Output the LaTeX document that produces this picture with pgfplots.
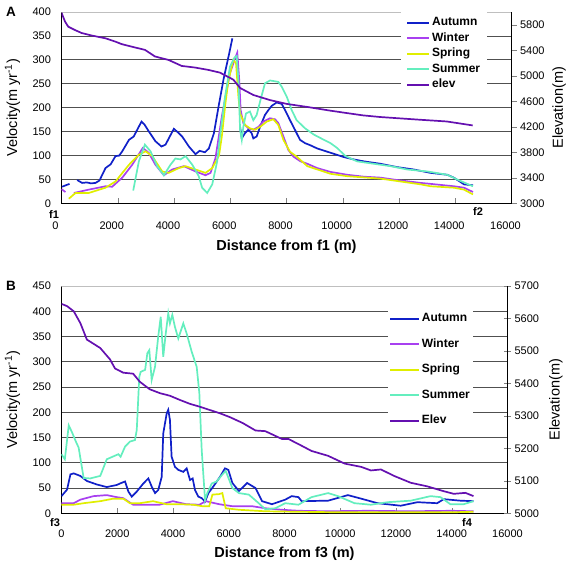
\documentclass[border=0pt]{standalone}
\usepackage{fontspec}
\setmainfont{Liberation Sans}
\usepackage{pgfplots}
\pgfplotsset{compat=1.18}

\definecolor{cAut}{RGB}{16,32,200}
\definecolor{cWin}{RGB}{168,64,240}
\definecolor{cSpr}{RGB}{224,238,0}
\definecolor{cSum}{RGB}{100,238,190}
\definecolor{cElev}{RGB}{100,16,176}
\definecolor{cGrid}{RGB}{80,80,80}

\pgfplotsset{
  base/.style={scale only axis, xmin=0, xmax=16000,
    /pgf/number format/assume math mode=true,
    /pgf/number format/1000 sep={},
    scaled x ticks=false, scaled y ticks=false,
    tick label style={font=\fontsize{11}{13}\selectfont},
    label style={font=\fontsize{14.5}{16}\selectfont},
    unbounded coords=jump,
    axis line style={line width=0.8pt},
  },
  vel/.style={base, axis x line*=bottom, axis y line*=left,
    xtick={0,2000,...,16000}, xtick align=inside, major tick length=5pt,
    ytick style={draw=none}, extra y tick style={grid=none, tick style={draw=none}},
    ymajorgrids, major grid style={cGrid, line width=0.8pt},
    yticklabel style={xshift=-7pt},
    xlabel style={at={(axis description cs:0.5,0)}, anchor=center, font=\bfseries\fontsize{14.5}{16}\selectfont},
    ylabel style={anchor=center, rotate=0},
  },
  elev/.style={base, axis x line=none, axis y line*=right,
    ylabel style={anchor=center},
    legend cell align=left,
    legend image code/.code={\draw[line width=1.7pt] (0pt,0pt) -- (22pt,0pt);},
  },
}

\begin{document}
\begin{tikzpicture}
\useasboundingbox (0,0) rectangle (568pt,563pt);

% ================= Panel A =================
\begin{axis}[vel, at={(61.5pt,359.5pt)}, anchor=south west,
  width=450pt, height=191.5pt, ymin=0, ymax=400,
  ytick={0,50,...,350}, extra y ticks={400},
  xticklabel style={xshift=-6pt, yshift=-15pt},
  xlabel={Distance from f1 (m)}, xlabel style={yshift=-43.5pt},
  ylabel={Velocity(m yr\textsuperscript{-1})},
  ylabel style={at={(axis description cs:-0.109,0.5)}}]
\draw[black!25, line width=0.6pt] (rel axis cs:0,1) -- (rel axis cs:1,1);
% Autumn
\addplot[cAut, line width=1.7pt] coordinates {
(20,35)(150,38)(285,41)(420,nan)
(557,49)(735,43)(900,44)(1050,42)(1210,43)(1350,48)(1565,74)(1750,82)(1920,99)(2050,100)
(2160,109)(2400,133)(2570,140)(2700,155)(2845,171)(2950,165)(3100,151)(3340,130)(3555,119)
(3700,123)(3850,140)(3995,156)(4150,148)(4290,140)(4530,119)(4765,103)(4910,110)(5100,107)
(5240,115)(5420,147)(5595,206)(5770,262)(5950,310)(6075,345)(6200,nan)
(6350,160)(6410,136)(6525,147)(6645,154)(6760,147)(6820,136)(6940,140)(7060,160)(7235,185)
(7355,195)(7475,204)(7650,211)(7830,208)(7950,195)(8125,174)(8300,154)(8480,133)(8660,126)
(8835,122)(9090,115)(9565,106)(10040,97)(10395,92)(10750,88)(11340,83)(11935,76)(12530,71)
(13120,64)(13715,60)(13950,54)(14310,40)(14630,38)};
% Winter
\addplot[cWin, line width=1.7pt] coordinates {
(0,30)(140,24)(300,nan)
(440,22)(970,29)(1565,36)(1800,35)(2160,54)(2515,81)(2890,116)(3100,106)(3340,81)(3640,59)
(3935,71)(4350,78)(4765,67)(5120,59)(5300,64)(5475,95)(5710,185)(5990,272)(6170,303)(6250,315)
(6320,258)(6370,195)(6465,168)(6645,157)(6820,154)(7000,160)(7175,171)(7415,178)(7590,176)
(7710,168)(7890,140)(8065,112)(8245,98)(8500,88)(8740,83)(9090,74)(9565,66)(10160,60)
(10750,56)(11340,54)(11935,49)(12770,43)(13120,41)(13950,36)(14310,33)(14630,24)};
% Spring
\addplot[cSpr, line width=1.7pt] coordinates {
(260,10)(500,22)(970,22)(1565,33)(1920,46)(2400,81)(2750,102)(2990,109)(3225,99)(3580,67)
(3815,64)(4170,74)(4410,78)(4765,71)(5120,64)(5360,74)(5600,100)(5700,140)(5830,210)
(5930,255)(6050,286)(6110,300)(6205,293)(6290,223)(6350,188)(6525,164)(6700,157)(6880,154)
(7060,160)(7295,171)(7530,176)(7710,164)(7890,133)(8125,108)(8360,98)(8740,78)(9565,62)
(10160,57)(11340,52)(12770,40)(13120,36)(13950,33)(14310,29)(14630,19)};
% Summer
\addplot[cSum, line width=1.7pt] coordinates {
(2550,27)(2750,88)(2965,123)(3165,109)(3400,78)(3640,59)(3875,81)(4050,94)(4230,92)(4410,99)
(4650,81)(4880,57)(5000,33)(5180,22)(5360,40)(5535,88)(5635,140)(5815,223)(5990,286)
(6150,305)(6230,308)(6290,258)(6350,154)(6410,133)(6465,160)(6560,188)(6700,192)(6820,174)
(6940,185)(7060,213)(7235,251)(7415,257)(7710,254)(7830,244)(8010,223)(8185,195)(8360,174)
(8660,157)(8970,144)(9330,133)(9565,126)(9800,116)(10100,99)(10510,88)(11100,83)(11700,78)
(12290,71)(13000,67)(13715,60)(14070,50)(14630,36)};
\end{axis}

\begin{axis}[elev, at={(61.5pt,359.5pt)}, anchor=south west,
  width=450pt, height=191.5pt, ymin=3000, ymax=6000,
  ytick={3000,3400,...,5800}, ytick align=outside, major tick length=5pt,
  ylabel={Elevation(m)},
  ylabel style={at={(axis description cs:1.1056,0.5)}},
  legend style={at={(0.755,1)}, anchor=north west, draw=none, fill=white,
    font=\bfseries\fontsize{12}{14}\selectfont, inner xsep=5pt, inner ysep=3pt,
    row sep=0.3pt, nodes={text height=8.6pt, text depth=2.6pt}}]
\addlegendimage{cAut, line width=1.7pt}\addlegendentry{Autumn}
\addlegendimage{cWin, line width=1.7pt}\addlegendentry{Winter}
\addlegendimage{cSpr, line width=1.7pt}\addlegendentry{Spring}
\addlegendimage{cSum, line width=1.7pt}\addlegendentry{Summer}
\addplot[cElev, line width=1.7pt] coordinates {
(0,5990)(125,5850)(240,5770)(480,5717)(720,5670)(1070,5632)(1565,5588)(1920,5535)(2140,5497)
(2610,5445)(2970,5406)(3325,5303)(3800,5250)(4275,5155)(4745,5130)(5220,5093)(5635,5050)
(6110,4940)(6350,4810)(6820,4700)(7415,4620)(8010,4560)(8775,4510)(9550,4455)(10140,4417)
(10730,4380)(11325,4355)(11920,4337)(12750,4312)(13700,4285)(14620,4223)};
\addlegendentry{elev}
\end{axis}

% ================= Panel B =================
\begin{axis}[vel, at={(61.5pt,49.7pt)}, anchor=south west,
  width=446pt, height=227.3pt, ymin=0, ymax=450,
  ytick={0,50,...,400}, extra y ticks={450},
  xticklabel style={yshift=-13pt},
  xlabel={Distance from f3 (m)}, xlabel style={yshift=-40pt},
  ylabel={Velocity(m yr\textsuperscript{-1})},
  ylabel style={at={(axis description cs:-0.110,0.5)}}]
\draw[black!25, line width=0.6pt] (rel axis cs:0,1) -- (rel axis cs:1,1);
% Autumn
\addplot[cAut, line width=1.7pt] coordinates {
(0,34)(200,47)(320,77)(440,79)(675,74)(910,64)(1270,57)(1625,52)(1980,56)(2100,59)(2280,63)
(2400,43)(2520,33)(2700,43)(2935,59)(3115,69)(3235,53)(3355,40)(3470,46)(3595,72)(3650,158)
(3775,198)(3830,205)(3890,185)(3950,112)(4070,92)(4190,86)(4370,82)(4490,89)(4610,66)(4705,69)
(4790,46)(4910,33)(5030,30)(5150,23)(5270,40)(5445,53)(5685,72)(5865,89)(5985,86)(6130,60)
(6365,44)(6660,60)(6960,50)(7195,24)(7550,18)(8025,27)(8260,34)(8500,32)(8615,24)(9565,25)
(10275,36)(10750,29)(11340,20)(12170,15)(12770,22)(13475,20)(13715,28)(14310,25)(14780,24)};
% Winter
\addplot[cWin, line width=1.7pt] coordinates {
(0,20)(440,20)(675,27)(1150,34)(1625,36)(1980,32)(2215,30)(2570,17)(3045,17)(3520,17)
(3995,24)(4470,18)(4945,17)(5180,24)(5655,18)(6130,14)(6840,14)(7310,10)(7900,7)(8500,5)
(9500,4)(11000,5)(12500,4)(14000,5)(14780,4)};
% Spring
\addplot[cSpr, line width=1.7pt] coordinates {
(0,17)(440,17)(795,20)(1390,24)(1860,29)(2215,29)(2455,20)(2810,20)(3285,24)(3760,18)
(4230,18)(4710,17)(5060,14)(5300,14)(5415,37)(5655,38)(5770,40)(5890,10)(6365,7)(7310,4)
(8500,3)(10000,2)(12000,2)(14000,2)(14780,3)};
% Summer
\addplot[cSum, line width=1.7pt] coordinates {
(0,117)(120,107)(260,174)(380,160)(500,144)(615,130)(795,70)(1030,69)(1390,74)(1625,107)
(2040,117)(2120,112)(2280,132)(2455,142)(2635,145)(2700,165)(2790,270)(2840,280)(3000,284)
(3080,317)(3150,323)(3235,264)(3355,290)(3470,350)(3560,389)(3650,310)(3740,356)(3830,396)
(3890,376)(3975,393)(4070,369)(4190,346)(4370,376)(4490,356)(4670,320)(4850,290)(4945,238)
(5030,125)(5150,26)(5230,40)(5390,59)(5565,63)(5805,79)(5890,84)(6130,50)(6365,40)(6720,37)
(7075,20)(7310,8)(7670,10)(8025,20)(8500,17)(8970,32)(9565,40)(9920,34)(10510,20)(11100,17)
(11700,22)(12530,25)(13240,34)(13595,32)(13950,18)(14430,18)(14780,24)};
\end{axis}

\begin{axis}[elev, at={(61.5pt,49.7pt)}, anchor=south west,
  width=446pt, height=227.3pt, ymin=5000, ymax=5700,
  ytick={5000,5100,...,5700}, ytick align=center, major tick length=7pt,
  ylabel={Elevation(m)},
  ylabel style={at={(axis description cs:1.1087,0.5)}},
  legend image code/.code={\draw[line width=1.7pt] (0pt,0pt) -- (29pt,0pt);},
  legend style={at={(0.732,0.912)}, anchor=north west, draw=none, fill=white,
    font=\bfseries\fontsize{12}{14}\selectfont, inner xsep=1pt, inner ysep=5pt,
    row sep=10.3pt, nodes={text height=8.6pt, text depth=2.6pt}}]
\addlegendimage{cAut, line width=1.7pt}\addlegendentry{Autumn}
\addlegendimage{cWin, line width=1.7pt}\addlegendentry{Winter}
\addlegendimage{cSpr, line width=1.7pt}\addlegendentry{Spring}
\addlegendimage{cSum, line width=1.7pt}\addlegendentry{Summer}
\addplot[cElev, line width=1.7pt] coordinates {
(0,5645)(200,5638)(440,5622)(675,5586)(910,5535)(1390,5509)(1740,5474)(1920,5446)(2215,5433)
(2570,5430)(2810,5405)(3165,5382)(3530,5370)(3890,5362)(4250,5349)(4610,5337)(4970,5328)
(5325,5318)(5685,5308)(6045,5296)(6500,5278)(6960,5255)(7310,5253)(7905,5229)(8140,5229)
(8615,5208)(8970,5192)(9565,5177)(10160,5153)(10750,5143)(11100,5132)(11460,5135)(11935,5115)
(12530,5094)(13120,5083)(13715,5068)(14070,5060)(14490,5063)(14780,5053)};
\addlegendentry{Elev}
\end{axis}

% labels
\node[font=\bfseries\fontsize{13.5}{15}\selectfont] at (11pt,551.5pt) {A};
\node[font=\bfseries\fontsize{13.5}{15}\selectfont] at (11pt,277.5pt) {B};
\node[font=\bfseries\fontsize{11}{13}\selectfont] at (54pt,348pt) {f1};
\node[font=\bfseries\fontsize{11}{13}\selectfont] at (478pt,351pt) {f2};
\node[font=\bfseries\fontsize{11}{13}\selectfont] at (55pt,40pt) {f3};
\node[font=\bfseries\fontsize{11}{13}\selectfont] at (467pt,40pt) {f4};
\end{tikzpicture}
\end{document}
